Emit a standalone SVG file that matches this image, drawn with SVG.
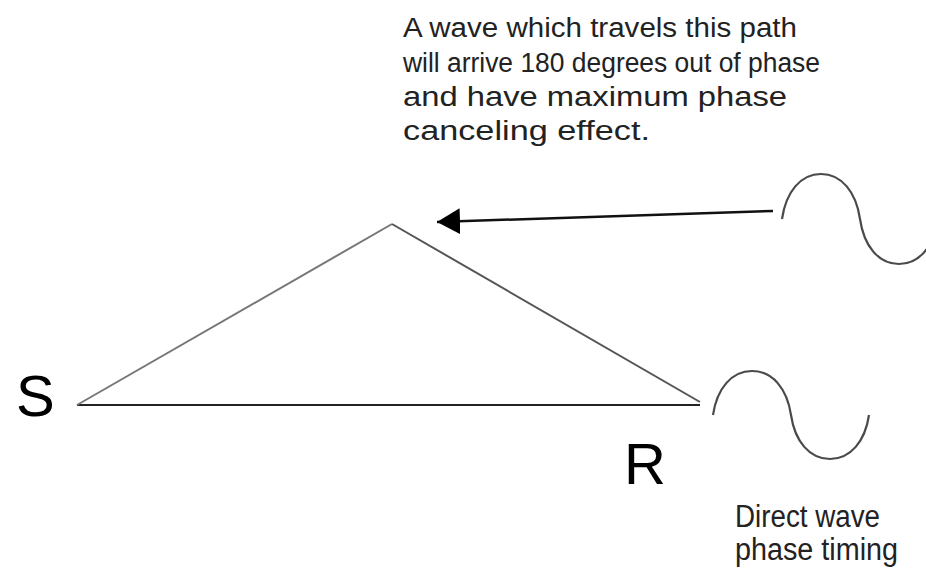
<svg xmlns="http://www.w3.org/2000/svg" width="926" height="573" viewBox="0 0 926 573">
<style>
.note{font-family:"Liberation Sans",Arial,sans-serif;font-size:27px;fill:#222;}
.note2{font-family:"Liberation Sans",Arial,sans-serif;font-size:31px;fill:#222;}
.lbl{font-family:"Liberation Sans",Arial,sans-serif;font-size:58px;fill:#000;}
.wave{fill:none;stroke:#4a4a4a;stroke-width:2.2;}
.edge{fill:none;stroke-width:2;}
</style>
<defs>
<marker id="ah" markerUnits="userSpaceOnUse" markerWidth="24" markerHeight="28" refX="23" refY="13" orient="auto">
<path d="M0,0 L23,13 L0,26 Z" fill="#000"/>
</marker>
</defs>
<rect width="926" height="573" fill="#fff"/>
<g id="note-top">
<text class="note" x="403" y="37" textLength="394" lengthAdjust="spacingAndGlyphs">A wave which travels this path</text>
<text class="note" x="403" y="72" textLength="417" lengthAdjust="spacingAndGlyphs">will arrive 180 degrees out of phase</text>
<text class="note" x="403" y="106" textLength="384" lengthAdjust="spacingAndGlyphs">and have maximum phase</text>
<text class="note" x="403" y="140" textLength="247" lengthAdjust="spacingAndGlyphs">canceling effect.</text>
</g>
<g id="S"><text class="lbl" x="16" y="416">S</text></g>
<g id="R"><text class="lbl" x="624" y="484">R</text></g>
<g id="wave-reflected">
<path class="wave" d="M782,219 C785.9,192 800.5,174 821,174 C841.5,174 856.1,192 860,219 C863.9,246 878.5,264 899,264 C919.5,264 934.1,246 938,219"/>
</g>
<g id="wave-direct">
<path class="wave" d="M713,415 C716.9,388.6 731.5,371 752,371 C772.5,371 787.1,388.6 791,415 C794.9,441.4 809.5,459 830,459 C850.5,459 865.1,441.4 869,415"/>
</g>
<g id="note-bottom">
<text class="note2" x="735" y="527" textLength="145" lengthAdjust="spacingAndGlyphs">Direct wave</text>
<text class="note2" x="735" y="560" textLength="163" lengthAdjust="spacingAndGlyphs">phase timing</text>
</g>
<g id="connectors">
<line class="edge" x1="77" y1="405" x2="700" y2="405" stroke="#222"/>
<line class="edge" x1="77" y1="405" x2="392" y2="224" stroke="#777"/>
<line class="edge" x1="392" y1="224" x2="700" y2="402" stroke="#555"/>
<line x1="773" y1="211" x2="437" y2="222" stroke="#111" stroke-width="2.5" marker-end="url(#ah)"/>
</g>
</svg>
